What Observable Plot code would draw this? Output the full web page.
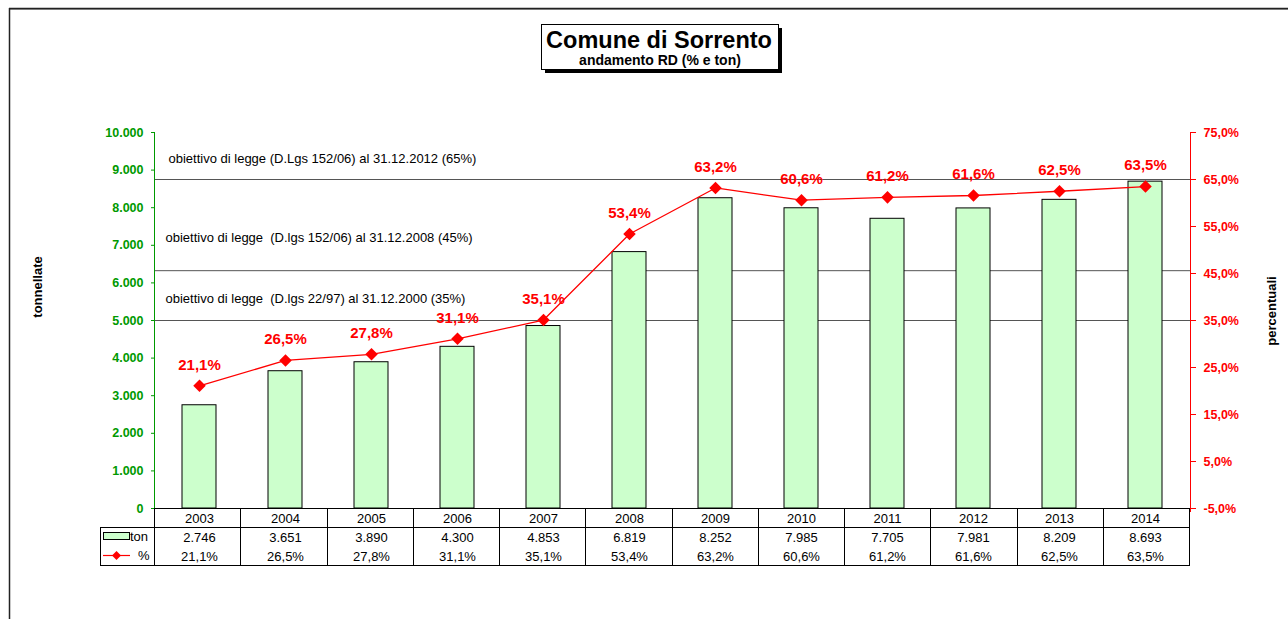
<!DOCTYPE html>
<html>
<head>
<meta charset="utf-8">
<script src="https://cdn.jsdelivr.net/npm/d3@7"></script>
<script src="https://cdn.jsdelivr.net/npm/@observablehq/plot@0.6"></script>
<style>
  body { margin: 0; background: #fff; }
  svg { font-family: "Liberation Sans", Arial, sans-serif; }
</style>
</head>
<body>
<div id="chart"></div>
<script>
// ---- data ----
const years = ["2003","2004","2005","2006","2007","2008","2009","2010","2011","2012","2013","2014"];
const tons  = [2746, 3651, 3890, 4300, 4853, 6819, 8252, 7985, 7705, 7981, 8209, 8693];
const pcts  = [21.1, 26.5, 27.8, 31.1, 35.1, 53.4, 63.2, 60.6, 61.2, 61.6, 62.5, 63.5];
const leftTicks  = [0, 1000, 2000, 3000, 4000, 5000, 6000, 7000, 8000, 9000, 10000];
const rightTicks = [-5, 5, 15, 25, 35, 45, 55, 65, 75];
// target lines as drawn in the picture (the 45% line sits slightly above the 45% tick)
const targetPcts = [65, 45.6, 35];
const targetLabels = [
  "obiettivo di legge (D.Lgs 152/06) al 31.12.2012 (65%)",
  "obiettivo di legge  (D.lgs 152/06) al 31.12.2008 (45%)",
  "obiettivo di legge  (D.lgs 22/97) al 31.12.2000 (35%)"
];
const titleText = "Comune di Sorrento";
const subtitleText = "andamento RD (% e ton)";
const yLeftTitle = "tonnellate";
const yRightTitle = "percentuali";
const legendTon = "ton";
const legendPct = "%";

// ---- helpers ----
const it = d3.formatLocale({decimal: ",", thousands: ".", grouping: [3], currency: ["€", ""], minus: "-"});
const fTon = it.format(",.0f");
const fPct = v => it.format(".1f")(v) + "%";
// right axis (-5%..75%) shares the frame with left axis (0..10000)
const pctToTon = p => (p + 5) * 125;
const tonToPct = t => t / 125 - 5;

const data = years.map((year, i) => ({year, ton: tons[i], pct: pcts[i]}));
const targets = targetPcts.map((p, i) => ({p, idx: i, label: targetLabels[i]}));

const GREEN = "#009900", RED = "#ff0000", BAR = "#ccffcc";

function decorations(...args) {
  const dims = args.find(a => a && typeof a === "object" && "marginLeft" in a && "width" in a);
  const {width, height, marginLeft: L, marginRight: R, marginTop: T, marginBottom: B} = dims;
  const x0 = L, x1 = width - R, y0 = height - B;
  const step = (x1 - x0) / years.length;
  const g = d3.create("svg:g").attr("text-anchor", "start");
  // outer frame
  g.append("line").attr("x1", 9).attr("x2", width).attr("y1", 9.5).attr("y2", 9.5).attr("stroke", "#999").attr("stroke-width", 1);
  g.append("line").attr("x1", 9).attr("x2", width).attr("y1", 8.5).attr("y2", 8.5).attr("stroke", "#222").attr("stroke-width", 1.5);
  g.append("line").attr("x1", 9.5).attr("x2", 9.5).attr("y1", 8).attr("y2", height).attr("stroke", "#222").attr("stroke-width", 1.5);
  // axis lines
  g.append("line").attr("x1", x0 - 0.5).attr("x2", x0 - 0.5).attr("y1", T).attr("y2", y0).attr("stroke", GREEN);
  g.append("line").attr("x1", x1 + 0.5).attr("x2", x1 + 0.5).attr("y1", T).attr("y2", y0 + 4).attr("stroke", RED);
  // table grid
  const tl = (a, b, c, d) => g.append("line").attr("x1", a).attr("y1", b).attr("x2", c).attr("y2", d).attr("stroke", "#000").attr("stroke-width", 1);
  tl(x0, y0 + 0.5, x1, y0 + 0.5);
  tl(100, y0 + 19.5, x1, y0 + 19.5);
  tl(100, y0 + 57.5, x1, y0 + 57.5);
  tl(100.5, y0 + 19, 100.5, y0 + 58);
  for (let i = 0; i <= years.length; i++) {
    const xx = Math.round(x0 + i * step) - 0.5;
    tl(xx, y0, xx, y0 + 58);
  }
  // legend keys
  g.append("rect").attr("x", 103.5).attr("y", y0 + 24.5).attr("width", 26).attr("height", 7).attr("fill", BAR).attr("stroke", "#000");
  g.append("text").attr("x", 130).attr("y", y0 + 28.5).attr("dy", "0.35em").attr("font-size", 13).attr("text-anchor", "start").text(legendTon);
  g.append("line").attr("x1", 103).attr("x2", 130).attr("y1", y0 + 47.5).attr("y2", y0 + 47.5).attr("stroke", RED).attr("stroke-width", 1.2);
  g.append("path").attr("d", `M116.5,${y0 + 43} l4.5,4.5 l-4.5,4.5 l-4.5,-4.5 z`).attr("fill", RED);
  g.append("text").attr("x", 138).attr("y", y0 + 47.5).attr("dy", "0.35em").attr("font-size", 13).attr("text-anchor", "start").text(legendPct);
  // axis titles
  g.append("text").attr("transform", `translate(42,287) rotate(-90)`).attr("text-anchor", "middle")
    .attr("font-weight", "bold").attr("font-size", 13).text(yLeftTitle);
  g.append("text").attr("transform", `translate(1276,311) rotate(-90)`).attr("text-anchor", "middle")
    .attr("font-weight", "bold").attr("font-size", 13).text(yRightTitle);
  // title box
  g.append("rect").attr("x", 545).attr("y", 28).attr("width", 237).attr("height", 45).attr("fill", "#000");
  g.append("rect").attr("x", 541.5).attr("y", 24.5).attr("width", 237).attr("height", 45).attr("fill", "#fff").attr("stroke", "#000");
  g.append("text").attr("x", 659).attr("y", 48).attr("text-anchor", "middle").attr("font-weight", "bold").attr("font-size", 23.5).text(titleText);
  g.append("text").attr("x", 660).attr("y", 65).attr("text-anchor", "middle").attr("font-weight", "bold").attr("font-size", 14).text(subtitleText);
  return g.node();
}

const chart = Plot.plot({
  width: 1288,
  height: 619,
  marginLeft: 155,
  marginRight: 98,
  marginTop: 132,
  marginBottom: 111,
  style: {background: "#fff", fontFamily: "'Liberation Sans', Arial, sans-serif", overflow: "visible"},
  x: {type: "band", domain: years, paddingInner: 0.6, paddingOuter: 0.3, axis: null},
  y: {domain: [0, 10000], label: null},
  marks: [
    Plot.ruleY(targets, {y: d => pctToTon(d.p), stroke: "#555", strokeWidth: 1}),
    Plot.text(targets, {filter: d => d.idx === 0, y: d => pctToTon(d.p), text: "label", frameAnchor: "left", textAnchor: "start", dx: 13, dy: -21, fontSize: 13, fill: "#000"}),
    Plot.text(targets, {filter: d => d.idx === 1, y: d => pctToTon(d.p), text: "label", frameAnchor: "left", textAnchor: "start", dx: 10, dy: -33, fontSize: 13, fill: "#000"}),
    Plot.text(targets, {filter: d => d.idx === 2, y: d => pctToTon(d.p), text: "label", frameAnchor: "left", textAnchor: "start", dx: 10, dy: -22, fontSize: 13, fill: "#000"}),
    Plot.barY(data, {x: "year", y: "ton", fill: BAR, stroke: "#000", strokeWidth: 1}),
    Plot.line(data, {x: "year", y: d => pctToTon(d.pct), stroke: RED, strokeWidth: 1.3}),
    Plot.dot(data, {x: "year", y: d => pctToTon(d.pct), symbol: "square", rotate: 45, r: 5, fill: RED, stroke: "none"}),
    Plot.text(data, {x: "year", y: d => pctToTon(d.pct), text: d => fPct(d.pct), dy: -21, fill: RED, fontWeight: "bold", fontSize: 15}),
    Plot.axisY(leftTicks, {anchor: "left", tickFormat: fTon, color: GREEN, fontWeight: "bold", fontSize: 12.5, tickSize: 4, tickPadding: 8, label: null}),
    Plot.axisY(rightTicks.map(pctToTon), {anchor: "right", tickFormat: t => fPct(tonToPct(t)), color: RED, fontWeight: "bold", fontSize: 12.5, tickSize: 5, tickPadding: 8, label: null}),
    // table text
    Plot.text(data, {x: "year", text: "year", frameAnchor: "bottom", lineAnchor: "middle", dy: 10, fontSize: 13, fill: "#000"}),
    Plot.text(data, {x: "year", text: d => fTon(d.ton), frameAnchor: "bottom", lineAnchor: "middle", dy: 29, fontSize: 13, fill: "#000"}),
    Plot.text(data, {x: "year", text: d => fPct(d.pct), frameAnchor: "bottom", lineAnchor: "middle", dy: 48, fontSize: 13, fill: "#000"}),
    decorations
  ]
});
document.getElementById("chart").appendChild(chart);
</script>
</body>
</html>
